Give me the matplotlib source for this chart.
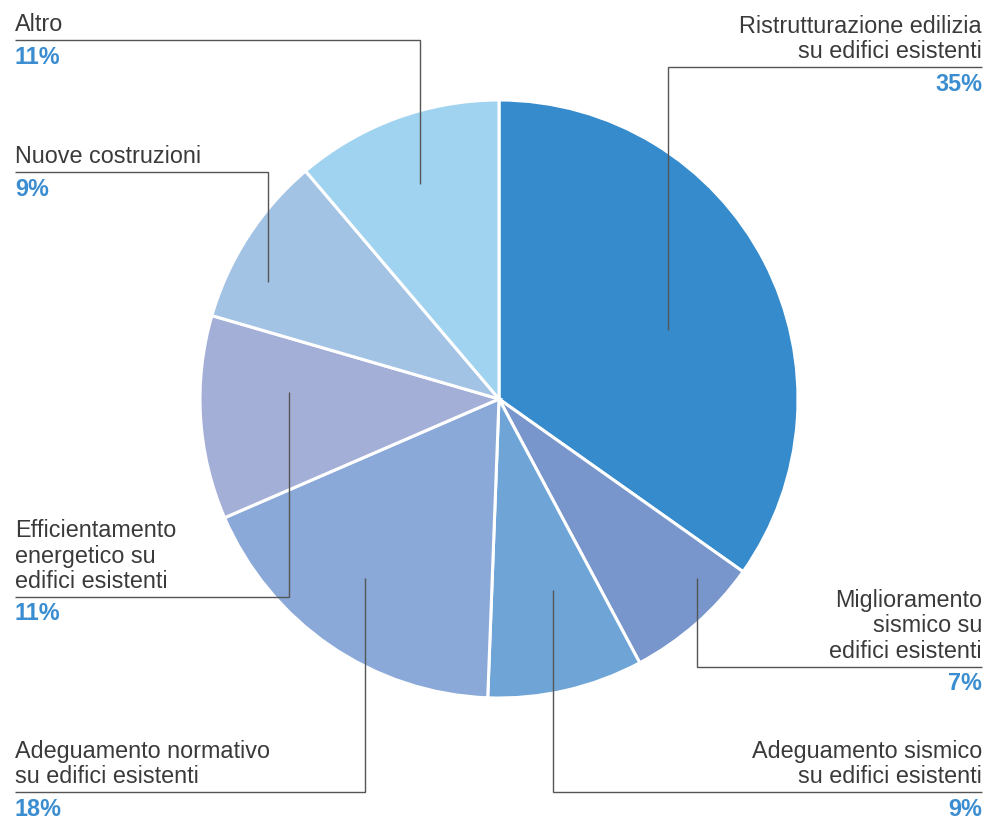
import matplotlib
matplotlib.use("Agg")
import matplotlib.pyplot as plt

W, H = 992, 821

categories = [
    "Ristrutturazione edilizia\nsu edifici esistenti",
    "Miglioramento\nsismico su\nedifici esistenti",
    "Adeguamento sismico\nsu edifici esistenti",
    "Adeguamento normativo\nsu edifici esistenti",
    "Efficientamento\nenergetico su\nedifici esistenti",
    "Nuove costruzioni",
    "Altro",
]
# percentages as printed
pct_labels = [35, 7, 9, 18, 11, 9, 11]
# slice sizes as drawn in the picture
shares = [34.8, 7.4, 8.4, 17.9, 11.0, 9.3, 11.2]
colors = ["#358BCB", "#7896CB", "#6EA4D6", "#8AA9D8", "#A4AFD8", "#A3C3E5", "#A0D3F0"]

# leader layout in pixel coords (x_vertical, y_start_in_slice, y_line, x_line_end, side)
leaders = [
    (668, 330, 67, 982, "right"),
    (697, 578, 667, 982, "right"),
    (553, 590, 792, 982, "right"),
    (365, 578, 792, 15, "left"),
    (289, 392, 597, 15, "left"),
    (268, 282, 172, 15, "left"),
    (420, 184, 40, 15, "left"),
]

fig = plt.figure(figsize=(W / 100, H / 100), dpi=100)
ax = fig.add_axes([0, 0, 1, 1])

cx, cy, r = 499, 399, 299
ax.pie(shares, colors=colors, startangle=90, counterclock=False,
       center=(cx, H - cy), radius=r,
       wedgeprops=dict(edgecolor="white", linewidth=2.2))
ax.set_xlim(0, W)
ax.set_ylim(0, H)
ax.set_aspect("equal")
ax.axis("off")

font = "Liberation Sans"
fs = 16.8
lh = 25.5
for cat, val, (xv, y0, yl, xe, side) in zip(categories, pct_labels, leaders):
    ax.plot([xv, xv, xe], [H - y0, H - yl, H - yl], color="#555555", lw=1.0,
            solid_joinstyle="miter", solid_capstyle="butt", zorder=5)
    lines = cat.split("\n")
    ha = "right" if side == "right" else "left"
    for i, ln in enumerate(lines):
        yb = yl - 9 - (len(lines) - 1 - i) * lh
        ax.text(xe, H - yb, ln, ha=ha, va="baseline", fontsize=fs,
                family=font, color="#3a3a3a")
    ax.text(xe, H - (yl + 23.5), f"{val}%", ha=ha, va="baseline", fontsize=fs,
            family=font, color="#3A8DD0", fontweight="bold")

fig.savefig("out.png", dpi=100)
